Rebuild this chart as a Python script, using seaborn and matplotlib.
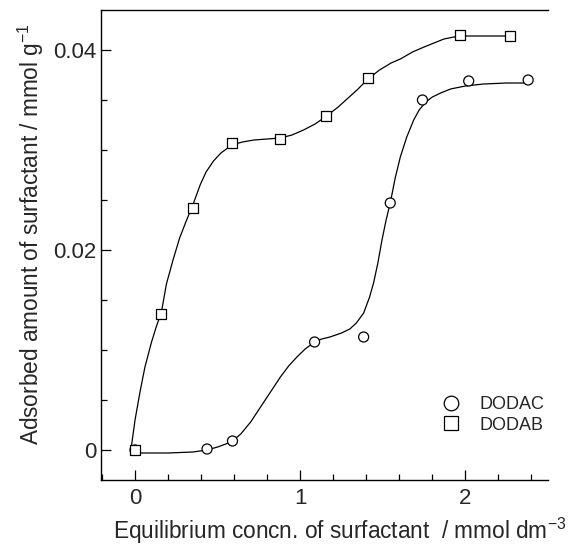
import matplotlib
matplotlib.use("Agg")
import matplotlib.pyplot as plt
import seaborn as sns
import pandas as pd
from matplotlib.ticker import MultipleLocator
from matplotlib.lines import Line2D

# ---- data ----
dodac_x = [0.0, 0.436, 0.59, 1.087, 1.384, 1.545, 1.74, 2.02, 2.38]
dodac_y = [0.0, 0.0001, 0.0009, 0.0108, 0.0113, 0.0247, 0.0350, 0.0369, 0.0370]

dodab_x = [0.0, 0.156, 0.35, 0.586, 0.879, 1.156, 1.41, 1.97, 2.27]
dodab_y = [0.0, 0.0136, 0.0242, 0.0307, 0.0311, 0.0334, 0.0372, 0.0415, 0.0414]

# smooth guide curves
dodac_curve_x = [0.0, 0.2, 0.35, 0.436, 0.5, 0.55, 0.59, 0.64, 0.7, 0.78,
                 0.84, 0.88, 0.93, 0.98, 1.03, 1.087, 1.13, 1.18, 1.25, 1.30,
                 1.34, 1.384, 1.42, 1.444, 1.47, 1.495, 1.52, 1.545, 1.575,
                 1.606, 1.645, 1.687, 1.72, 1.76, 1.80, 1.85, 1.91, 2.0,
                 2.11, 2.25, 2.38]
dodac_curve_y = [-0.0003, -0.0003, -0.0002, 0.0, 0.0003, 0.0006, 0.0009,
                 0.0016, 0.0028, 0.0048, 0.0063, 0.0073, 0.0084, 0.0093,
                 0.0101, 0.0108, 0.0111, 0.0113, 0.0117, 0.0121, 0.0127,
                 0.0137, 0.0153, 0.0167, 0.0187, 0.0210, 0.0230, 0.0247,
                 0.0272, 0.0293, 0.0313, 0.0330, 0.0340, 0.0348, 0.0353,
                 0.0357, 0.0361, 0.0364, 0.0366, 0.0367, 0.0367]

dodab_curve_x = [-0.025, 0.0, 0.03, 0.06, 0.1, 0.13, 0.16, 0.19, 0.23, 0.27,
                 0.31, 0.35, 0.394, 0.43, 0.475, 0.52, 0.586, 0.65, 0.72,
                 0.80, 0.88, 0.95, 1.02, 1.09, 1.16, 1.23, 1.29, 1.344, 1.41,
                 1.48, 1.55, 1.606, 1.68, 1.75, 1.81, 1.87, 1.93, 2.0, 2.1,
                 2.27]
dodab_curve_y = [0.0, 0.003, 0.0058, 0.0083, 0.0108, 0.0124, 0.0138, 0.0166,
                 0.0190, 0.0212, 0.0229, 0.0245, 0.0265, 0.0278, 0.0289,
                 0.0297, 0.0305, 0.0308, 0.0310, 0.0311, 0.0312, 0.0315,
                 0.0320, 0.0326, 0.0334, 0.0343, 0.0352, 0.0360, 0.0371,
                 0.0380, 0.0387, 0.0391, 0.0398, 0.0403, 0.0407, 0.0411,
                 0.0413, 0.0414, 0.0414, 0.0414]

x_ticks = [0, 1, 2]
y_ticks = [0, 0.02, 0.04]
y_tick_labels = ["0", "0.02", "0.04"]
series_names = ["DODAC", "DODAB"]

xlabel = r"Equilibrium concn. of surfactant  / mmol dm$^{-3}$"
ylabel = r"Adsorbed amount of surfactant / mmol g$^{-1}$"

# ---- figure ----
sns.set_theme(style="ticks")
plt.rcParams["font.family"] = ["Liberation Sans", "DejaVu Sans"]
plt.rcParams["mathtext.fontset"] = "custom"
plt.rcParams["mathtext.rm"] = "Liberation Sans"
plt.rcParams["mathtext.it"] = "Liberation Sans"

W, H = 581, 545
fig = plt.figure(figsize=(W / 100, H / 100), dpi=100)
left_px, right_px, top_px, bottom_px = 101, 548, 9.5, 480
ax = fig.add_axes([left_px / W, 1 - bottom_px / H,
                   (right_px - left_px) / W, (bottom_px - top_px) / H])

pts = pd.DataFrame({
    "x": dodac_x + dodab_x,
    "y": dodac_y + dodab_y,
    "s": [series_names[0]] * len(dodac_x) + [series_names[1]] * len(dodab_x),
})
crv = pd.DataFrame({
    "x": dodac_curve_x + dodab_curve_x,
    "y": dodac_curve_y + dodab_curve_y,
    "s": [series_names[0]] * len(dodac_curve_x) + [series_names[1]] * len(dodab_curve_x),
})

sns.lineplot(data=crv, x="x", y="y", units="s", estimator=None, sort=False,
             color="black", linewidth=0.9, ax=ax, legend=False, zorder=2)
sns.scatterplot(data=pts, x="x", y="y", style="s",
                markers={"DODAC": "o", "DODAB": "s"}, s=52,
                facecolor="white", edgecolor="black", linewidth=0.9,
                ax=ax, legend=False, zorder=3)

ax.set_xlim(-0.206, 2.5)
ax.set_ylim(-0.003, 0.04405)
ax.set_xticks(x_ticks)
ax.set_xticklabels([str(t) for t in x_ticks])
ax.set_yticks(y_ticks)
ax.set_yticklabels(y_tick_labels)
ax.xaxis.set_minor_locator(MultipleLocator(0.2))
ax.yaxis.set_minor_locator(MultipleLocator(0.005))
ax.tick_params(which="both", direction="in", width=0.9, color="black",
               top=False, right=False)
ax.tick_params(which="major", length=7, labelsize=16)
ax.tick_params(axis="x", which="major", pad=6)
ax.tick_params(axis="y", which="major", pad=3)
ax.tick_params(which="minor", length=4)
for sp in ["left", "bottom", "top"]:
    ax.spines[sp].set_linewidth(1.0)
    ax.spines[sp].set_color("black")
ax.spines["right"].set_visible(False)

ax.set_xlabel(xlabel, fontsize=16.3, ha="left", va="baseline")
ax.xaxis.set_label_coords(12 / (right_px - left_px),
                          -(539 - bottom_px) / (bottom_px - top_px))
ax.set_ylabel(ylabel, fontsize=16.3)
ax.yaxis.set_label_coords(-(101 - 46) / (right_px - left_px),
                          (bottom_px - 234) / (bottom_px - top_px))

handles = [Line2D([], [], marker="o", linestyle="none", markersize=10.5,
                  markerfacecolor="white", markeredgecolor="black",
                  markeredgewidth=0.9),
           Line2D([], [], marker="s", linestyle="none", markersize=9.5,
                  markerfacecolor="white", markeredgecolor="black",
                  markeredgewidth=0.9)]
ax.legend(handles, series_names, frameon=False, fontsize=13,
          loc="upper left", bbox_to_anchor=(442 / W, 1 - 396 / H),
          bbox_transform=fig.transFigure, borderpad=0, borderaxespad=0,
          handlelength=1.0, handletextpad=1.1, labelspacing=0.2)

fig.savefig("out.png", dpi=100)
